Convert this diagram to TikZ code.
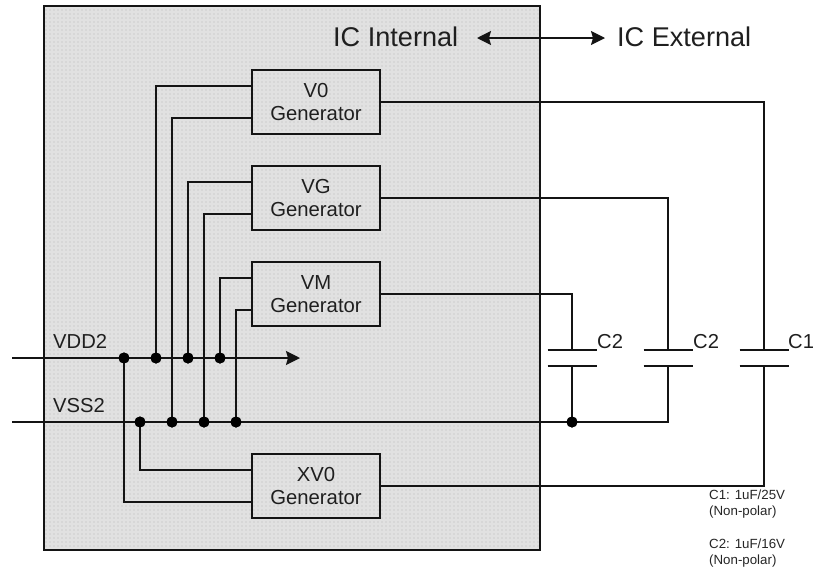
\documentclass[tikz,border=0pt]{standalone}
\usepackage{fontspec}
\setmainfont{Liberation Sans}
\usetikzlibrary{arrows.meta}
\definecolor{panelgray}{HTML}{D7D7D7}
\definecolor{panelgrid}{HTML}{E1E1E1}
\tikzset{
  wire/.style={line width=1.4pt,draw=black!92,line join=miter},
  genbox/.style={draw=black!92,line width=1.4pt,minimum width=128pt,minimum height=64pt,inner sep=0pt,align=center,font=\fontsize{20.3}{24}\selectfont,text=black!88},
  dot/.style={circle,fill=black,draw=none,minimum size=11pt,inner sep=0pt},
  biglabel/.style={font=\fontsize{27.1}{30}\selectfont,text=black!88,inner sep=0pt},
  midlabel/.style={font=\fontsize{20.2}{24}\selectfont,text=black!88,inner sep=0pt},
  smalllabel/.style={font=\fontsize{13.3}{16}\selectfont,text=black!85,inner sep=0pt,align=left,anchor=north west},
  tip/.tip={Stealth[length=14pt,width=14pt,inset=2pt]},
}
\begin{document}
\begin{tikzpicture}[x=1pt,y=-1pt]
\useasboundingbox (0,0) rectangle (814,568);
\fill[white] (0,0) rectangle (814,568);
\fill[panelgray] (44,6) rectangle (540,550);
\draw[panelgrid,line width=1.3pt,step=4pt] (44,6) grid (540,550);
\node[draw=black!92,line width=1.4pt,minimum width=496pt,minimum height=544pt,inner sep=0pt] (panel) at (292,278) {};
% generators
\node[genbox] (v0) at (316,102) {V0\\[-0.3pt]Generator};
\node[genbox] (vg) at (316,198) {VG\\[-0.3pt]Generator};
\node[genbox] (vm) at (316,294) {VM\\[-0.3pt]Generator};
\node[genbox] (xv) at (316,486) {XV0\\[-0.3pt]Generator};
% rail ends
\coordinate (vddin) at (12,358);
\coordinate (vddend) at (300,358);
\coordinate (vssin) at (12,422);
% junctions
\node[dot] (d1) at (124,358) {};
\node[dot] (d2) at (156,358) {};
\node[dot] (d3) at (188,358) {};
\node[dot] (d4) at (220,358) {};
\node[dot] (s1) at (140,422) {};
\node[dot] (s2) at (172,422) {};
\node[dot] (s3) at (204,422) {};
\node[dot] (s4) at (236,422) {};
\node[dot] (s5) at (572,422) {};
% capacitor plates
\coordinate (c1t) at (572,350); \coordinate (c1b) at (572,366);
\coordinate (c2t) at (668,350); \coordinate (c2b) at (668,366);
\coordinate (c3t) at (764,350); \coordinate (c3b) at (764,366);
\coordinate (vsscorner) at (668,422);
\coordinate (xvcorner) at (764,486);
% box ports
\coordinate (v0a) at (252,86);  \coordinate (v0b) at (252,118);
\coordinate (vga) at (252,182); \coordinate (vgb) at (252,214);
\coordinate (vma) at (252,278); \coordinate (vmb) at (252,310);
\coordinate (xva) at (252,470); \coordinate (xvb) at (252,502);
% rails
\draw[wire,-tip] (vddin) -- (vddend);
\draw[wire] (vssin) -- (vsscorner) -- (c2b);
% feeds
\draw[wire] (d2.center) |- (v0a);
\draw[wire] (s2.center) |- (v0b);
\draw[wire] (d3.center) |- (vga);
\draw[wire] (s3.center) |- (vgb);
\draw[wire] (d4.center) |- (vma);
\draw[wire] (s4.center) |- (vmb);
\draw[wire] (s1.center) |- (xva);
\draw[wire] (d1.center) |- (xvb);
% outputs
\draw[wire] (v0.east) -| (c3t);
\draw[wire] (vg.east) -| (c2t);
\draw[wire] (vm.east) -| (c1t);
\draw[wire] (xv.east) -- (xvcorner) -- (c3b);
\draw[wire] (c1b) -- (s5.center);
% plates
\foreach \n in {c1t,c1b,c2t,c2b,c3t,c3b}
  \draw[wire] ([xshift=-24.5pt]\n) -- ([xshift=24.5pt]\n);
% dots above wires
\foreach \n in {d1,d2,d3,d4,s1,s2,s3,s4,s5}
  \fill[black] (\n) circle (5.5pt);
% labels
\node[biglabel,anchor=base west] (lint) at (333,46) {IC Internal};
\node[biglabel,anchor=base west] (lext) at (617,46) {IC External};
\coordinate (arrl) at (477,38);
\coordinate (arrr) at (605,38);
\draw[wire,tip-tip] (arrl) -- (arrr);
\node[midlabel,anchor=base west] (lvdd) at (53,348) {VDD2};
\node[midlabel,anchor=base west] (lvss) at (53,412) {VSS2};
\node[midlabel,anchor=base west] (lc2a) at (597,348) {C2};
\node[midlabel,anchor=base west] (lc2b) at (693,348) {C2};
\node[midlabel,anchor=base west] (lc1) at (788,348) {C1};
\node[smalllabel] (n1) at (709,490) {C1: 1uF/25V\\(Non-polar)};
\node[smalllabel] (n2) at (709,539) {C2: 1uF/16V\\(Non-polar)};
\end{tikzpicture}
\end{document}
